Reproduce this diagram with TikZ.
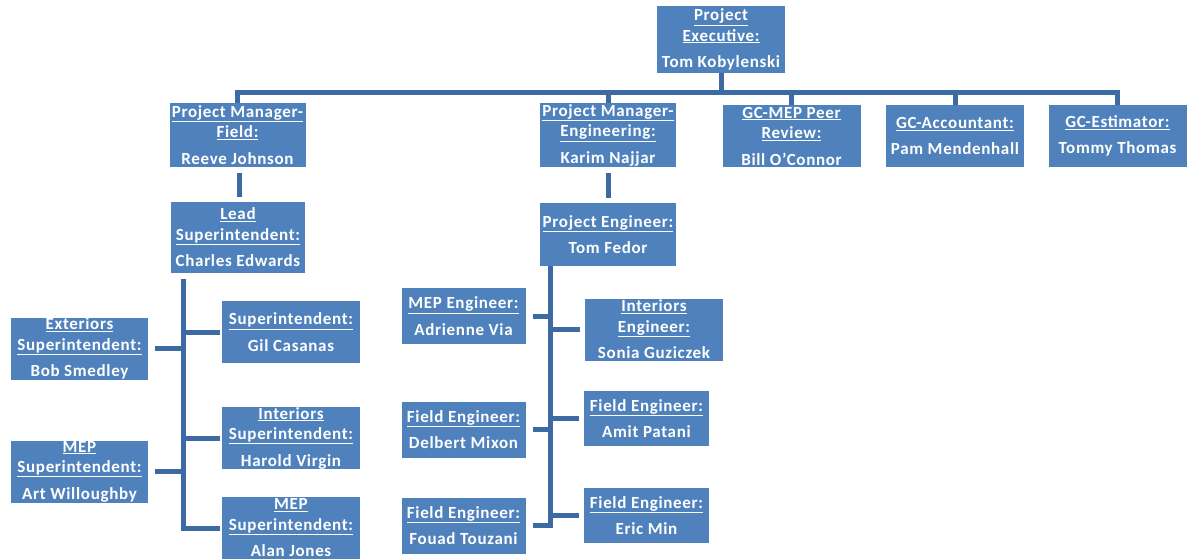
\documentclass[tikz,border=0pt]{standalone}
\usepackage{fontspec}
\setmainfont{Carlito}[LetterSpace=4]
\usepackage{xcolor}
\usepackage{tikz}
\usetikzlibrary{positioning,calc}

\definecolor{boxblue}{RGB}{79,129,189}
\definecolor{linkblue}{RGB}{61,106,163}

\newcommand{\role}[2]{#1\\[6pt]#2}

\begin{document}
\begin{tikzpicture}[x=1pt, y=-1pt,
  card/.style={fill=boxblue, text=white, inner sep=0pt, align=center,
    font=\fontsize{17}{20.5}\selectfont\bfseries, minimum height=62pt},
  wide/.style={card, minimum width=138pt},
  narrow/.style={card, minimum width=124pt, minimum height=56pt},
  link/.style={draw=linkblue, line width=5pt}
]
\useasboundingbox (0,0) rectangle (1188,559);

% top of the chart
\node[card, minimum width=128pt, minimum height=67pt] (exec) at (721,39.5)
  {\role{\underline{Project}\\\underline{Executive:}}{Tom Kobylenski}};

\node[card, minimum width=136pt, minimum height=64pt] (pmf) at (237.5,135)
  {\role{\underline{Project Manager-}\\\underline{Field:}}{Reeve Johnson}};
\node[card, minimum width=136pt, minimum height=64pt] (pme) at (608,135)
  {\role{\underline{Project Manager-}\\\underline{Engineering:}}{Karim Najjar}};
\node[wide] (peer) at (791.5,136)
  {\role{\underline{GC-MEP Peer}\\\underline{Review:}}{Bill O'Connor}};
\node[wide] (acct) at (955,136)
  {\role{\underline{GC-Accountant:}}{Pam Mendenhall}};
\node[wide] (est) at (1117.5,136)
  {\role{\underline{GC-Estimator:}}{Tommy Thomas}};

% field side
\node[card, minimum width=134pt, minimum height=71pt] (lead) at (238,237.5)
  {\role{\underline{Lead}\\\underline{Superintendent:}}{Charles Edwards}};
\node[wide] (gil) at (291,332)
  {\role{\underline{Superintendent:}}{Gil Casanas}};
\node[wide] (harold) at (291,438)
  {\role{\underline{Interiors}\\\underline{Superintendent:}}{Harold Virgin}};
\node[wide] (alan) at (291,528)
  {\role{\underline{MEP}\\\underline{Superintendent:}}{Alan Jones}};
\node[wide, minimum width=137pt] (ext) at (79.5,348.5)
  {\role{\underline{Exteriors}\\\underline{Superintendent:}}{Bob Smedley}};
\node[wide, minimum width=137pt] (art) at (79.5,471.5)
  {\role{\underline{MEP}\\\underline{Superintendent:}}{Art Willoughby}};

% engineering side
\node[card, minimum width=136pt, minimum height=63pt] (pe) at (608,234.5)
  {\role{\underline{Project Engineer:}}{Tom Fedor}};
\node[narrow] (adr) at (463.5,316)
  {\role{\underline{MEP Engineer:}}{Adrienne Via}};
\node[narrow] (delbert) at (463.5,429.5)
  {\role{\underline{Field Engineer:}}{Delbert Mixon}};
\node[narrow] (fouad) at (463.5,525.5)
  {\role{\underline{Field Engineer:}}{Fouad Touzani}};
\node[wide] (sonia) at (654,329.5)
  {\role{\underline{Interiors}\\\underline{Engineer:}}{Sonia Guziczek}};
\node[narrow, minimum width=125pt, minimum height=55pt] (amit) at (646.5,418.5)
  {\role{\underline{Field Engineer:}}{Amit Patani}};
\node[narrow, minimum width=125pt, minimum height=55pt] (eric) at (646.5,515.5)
  {\role{\underline{Field Engineer:}}{Eric Min}};

% connectors
\coordinate (bus) at (0,93);
\coordinate (spL) at (183,0);
\coordinate (spM) at (550,0);

\draw[link] (exec.south) -- (exec.south |- bus);
\draw[link] (pmf.north) -- (pmf.north |- bus) -- (est.north |- bus) -- (est.north);
\foreach \n in {pme,peer,acct}
  \draw[link] (\n.north |- bus) -- (\n.north);

\draw[link, shorten <=6pt, shorten >=5pt] ([xshift=2pt]pmf.south) -- ([xshift=2pt]pmf.south |- lead.north);
\draw[link, shorten <=6pt, shorten >=5pt] (pme.south) -- (pe.north);

\draw[link, shorten <=6pt, shorten >=2pt] (spL |- lead.south) -- (spL |- alan.west) -- (alan.west);
\foreach \n in {gil,harold}
  \draw[link, shorten >=2pt] (spL |- \n.west) -- (\n.west);
\foreach \n in {ext,art}
  \draw[link, shorten >=7pt] (spL |- \n.east) -- (\n.east);

\draw[link, shorten >=7pt] (spM |- pe.south) -- (spM |- fouad.east) -- (fouad.east);
\foreach \n in {adr,delbert}
  \draw[link, shorten >=7pt] (spM |- \n.east) -- (\n.east);
\foreach \n in {sonia,amit,eric}
  \draw[link, shorten >=5pt] (spM |- \n.west) -- (\n.west);

\end{tikzpicture}
\end{document}
